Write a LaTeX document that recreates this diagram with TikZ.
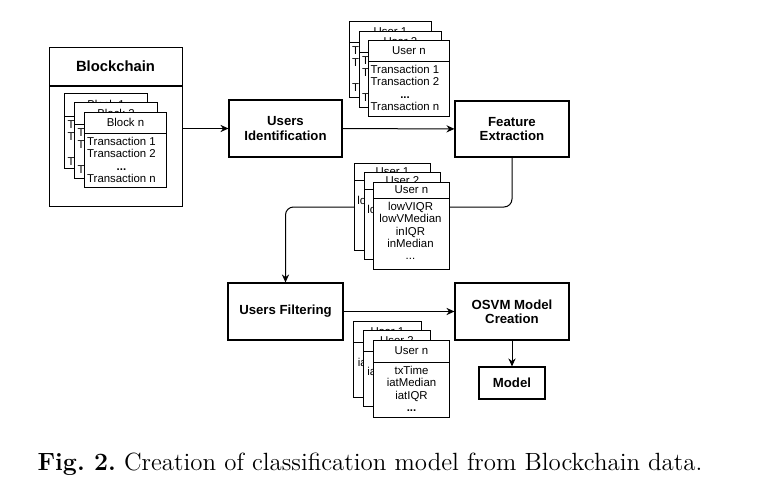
\documentclass[tikz,border=0pt]{standalone}
\usepackage{fontspec}
\setsansfont{Liberation Sans}
\usetikzlibrary{arrows.meta,calc}

\tikzset{
  box/.style={draw, line width=0.55pt, fill=white, align=center, inner sep=0pt,
    font=\sffamily\bfseries\fontsize{6.6}{7.2}\selectfont},
  card/.style={draw, line width=0.5pt, fill=white, anchor=north west, inner sep=0pt},
  cardtext/.style={font=\sffamily\fontsize{5.7}{6.1}\selectfont, align=center, inner sep=0pt},
  arrow/.style={-{Stealth[length=4pt,width=3.6pt]}, line width=0.5pt},
}

% one card of a stack: name, x, y, width, height, header height, title, body, body shift
\newcommand{\card}[9]{%
  \node[card, minimum width=#4*0.5pt, minimum height=#5*0.5pt] (#1) at (#2,#3) {};
  \draw[line width=0.5pt] ($(#1.north west)+(0,#6)$) -- ($(#1.north east)+(0,#6)$);
  \node[cardtext] (#1-title) at ($(#1.north)+(0,#6/2)$) {#7};
  \node[cardtext, anchor=north, inner ysep=2pt] (#1-body) at ($(#1.north)+(#9,#6)$) {#8};
}

\begin{document}
\begin{tikzpicture}[x=0.5pt, y=-0.5pt]
    \useasboundingbox (0,0) rectangle (757,493);

    % Nodes
    \node[box, minimum width=133*0.5pt, minimum height=159*0.5pt, anchor=north west] (chain) at (49,47) {};
    \draw[line width=0.55pt] ($(chain.north west)+(0,39)$) -- ($(chain.north east)+(0,39)$);
    \node[font=\sffamily\bfseries\fontsize{7.4}{8}\selectfont] (chaintitle) at (115.5,66.5) {Blockchain};
    \node[box, minimum width=113*0.5pt, minimum height=57*0.5pt] (uid) at (285.5,128.5) {Users\\Identification};
    \node[box, minimum width=114*0.5pt, minimum height=56*0.5pt] (fe) at (512,129) {Feature\\Extraction};
    \node[box, minimum width=115*0.5pt, minimum height=57*0.5pt] (uf) at (285.5,311.5) {Users Filtering};
    \node[box, minimum width=114*0.5pt, minimum height=57*0.5pt] (osvm) at (512,311.5) {OSVM Model\\Creation};
    \node[box, minimum width=66*0.5pt, minimum height=32*0.5pt] (model) at (512,383) {Model};
    \coordinate (turn) at (400,207);

    % Arrows
    \draw[arrow] (chain.east |- uid.west) -- (uid.west);
    \draw[arrow] (uid) -- (fe);
    \draw[arrow, rounded corners=4pt] (fe.south) |- (turn) -| (uf.north);
    \draw[arrow] (uf) -- (osvm);
    \draw[arrow] (osvm) -- (model);

    % Stacks
    \card{block1}{64}{93}{83}{75}{23}{Block 1}{Transaction 1\\Transaction 2\\\textbf{...}\\Transaction n}{-4}
    \card{block2}{74}{102}{83}{76}{22}{Block 2}{Transaction 1\\Transaction 2\\\textbf{...}\\Transaction n}{-4}
    \card{blockn}{84}{112}{82}{75}{21}{Block n}{Transaction 1\\Transaction 2\\\textbf{...}\\Transaction n}{-4}

    \card{tx1}{349}{21}{82}{76}{21}{User 1}{Transaction 1\\Transaction 2\\\textbf{...}\\Transaction n}{-4}
    \card{tx2}{359}{31}{82}{76}{21}{User 2}{Transaction 1\\Transaction 2\\\textbf{...}\\Transaction n}{-4}
    \card{txn}{368}{40}{81}{76}{21}{User n}{Transaction 1\\Transaction 2\\\textbf{...}\\Transaction n}{-4}

    \card{feat1}{354}{163}{76}{87}{17}{User 1}{lowVIQR\\lowVMedian\\inIQR\\inMedian\\...}{-4}
    \card{feat2}{364}{172}{76}{87}{17}{User 2}{lowVIQR\\lowVMedian\\inIQR\\inMedian\\...}{-4}
    \card{featn}{373}{182}{76}{87}{16}{User n}{lowVIQR\\lowVMedian\\inIQR\\inMedian\\...}{-1}

    \card{filt1}{353}{321}{68}{76}{21}{User 1}{txTime\\iatMedian\\iatIQR\\\textbf{...}}{-5}
    \card{filt2}{363}{330}{67}{76}{21}{User 2}{txTime\\iatMedian\\iatIQR\\\textbf{...}}{-5}
    \card{filtn}{373}{340}{76}{77}{22}{User n}{txTime\\iatMedian\\iatIQR\\\textbf{...}}{0}

    % Caption
    \node[font=\fontsize{12.45}{14}\selectfont, anchor=base] (caption) at (370,470) {\textbf{Fig.\ 2.}\ Creation of classification model from Blockchain data.};
\end{tikzpicture}
\end{document}
